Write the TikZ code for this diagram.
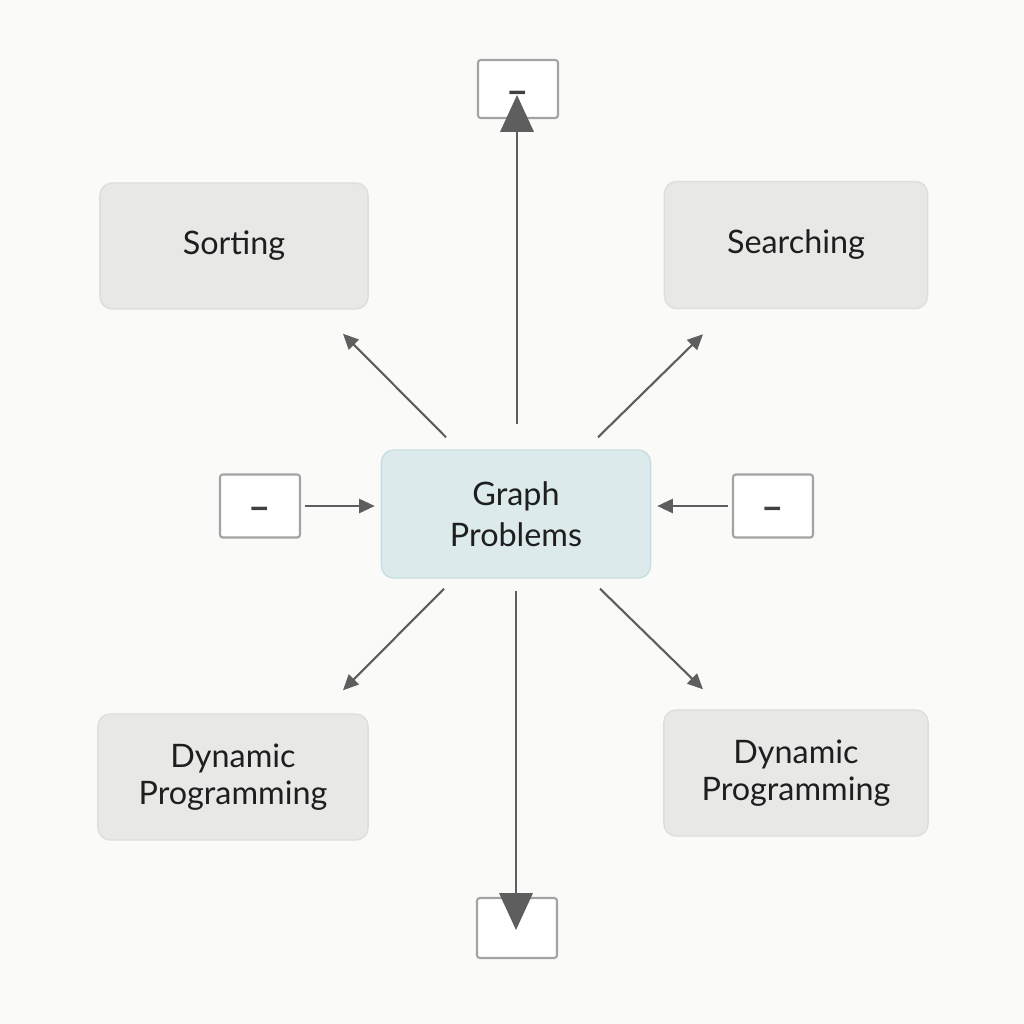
\documentclass[tikz,border=0pt]{standalone}
\usepackage{fontspec}
\setmainfont{Lato}
\usetikzlibrary{arrows.meta,positioning,calc}
\definecolor{bgpaper}{HTML}{FAFBF8}
\definecolor{topicfill}{HTML}{E8E9E7}
\definecolor{topicline}{HTML}{DEDFDC}
\definecolor{hubfill}{HTML}{DCEAEC}
\definecolor{hubline}{HTML}{C8DEE1}
\definecolor{stubline}{HTML}{A3A3A3}
\definecolor{arrgray}{HTML}{5E5E5E}
\definecolor{txtdark}{HTML}{1E1E1E}
\newcommand{\stubdash}[1][-4pt]{\raisebox{#1}[0pt][0pt]{--}}

\begin{document}
\begin{tikzpicture}[x=0.01cm, y=-0.01cm,
  topic/.style={draw=topicline, fill=topicfill, rounded corners=3.5pt,
                minimum width=2.68cm, minimum height=1.26cm,
                align=center, text=txtdark,
                font=\fontsize{9.2}{10.5}\selectfont},
  hub/.style={draw=hubline, fill=hubfill, rounded corners=3.5pt,
              minimum width=2.69cm, minimum height=1.28cm,
              align=center, text=txtdark,
              font=\fontsize{9.2}{11.5}\selectfont},
  stub/.style={draw=stubline, line width=0.6pt, fill=white,
               minimum width=0.8cm, minimum height=0.6cm,
               rounded corners=0.8pt, text=txtdark!85,
               font=\fontsize{11}{12}\selectfont\bfseries},
  arr/.style={-{Triangle[length=4.4pt, width=4pt]}, line width=0.6pt, arrgray},
  bigarr/.style={-{Triangle[length=10.5pt, width=9.5pt]}, line width=0.6pt, arrgray}
]
\fill[bgpaper] (0,0) rectangle (1024,1024);
\useasboundingbox (0,0) rectangle (1024,1024);

% topics round the hub
\node[topic] (sort) at (234,246) {Sorting};
\node[topic, minimum width=2.63cm, minimum height=1.27cm] (search) at (796,245) {Searching};
\node[topic, minimum width=2.70cm] (dpl) at (233,777) {Dynamic\\Programming};
\node[topic, minimum width=2.64cm] (dpr) at (796,773) {Dynamic\\Programming};
\node[hub] (graph) at (516,514) {Graph\\Problems};

% empty stubs
\node[stub, minimum height=0.58cm] (tstub) at (518,89) {\stubdash[-4.5pt]};
\node[stub, minimum height=0.63cm] (lstub) at (260,506) {\stubdash};
\node[stub, minimum height=0.63cm] (rstub) at (773,506) {\stubdash};
\node[stub] (bstub) at (517,928) {};

% diagonals
\draw[arr] ([shift={(-70,-12)}]graph.north) -- ([shift={(109,24)}]sort.south);
\draw[arr] ([shift={(82,-12)}]graph.north) -- ([shift={(-93,25)}]search.south);
\draw[arr] ([shift={(-72,10)}]graph.south) -- ([shift={(110,-23)}]dpl.north);
\draw[arr] ([shift={(84,10)}]graph.south) -- ([shift={(-93,-20)}]dpr.north);

% vertical
\draw[bigarr] ([shift={(1,-25)}]graph.north) -- ([shift={(-1,6)}]tstub.center);
\draw[bigarr] ([shift={(0,12)}]graph.south) -- ([shift={(-1,2)}]bstub.center);

% sides
\draw[arr, shorten <=1pt] (lstub.east) -- ([xshift=-0.06cm]lstub.east -| graph.west);
\draw[arr, shorten <=1pt] (rstub.west) -- ([xshift=0.06cm]rstub.west -| graph.east);
\end{tikzpicture}
\end{document}
